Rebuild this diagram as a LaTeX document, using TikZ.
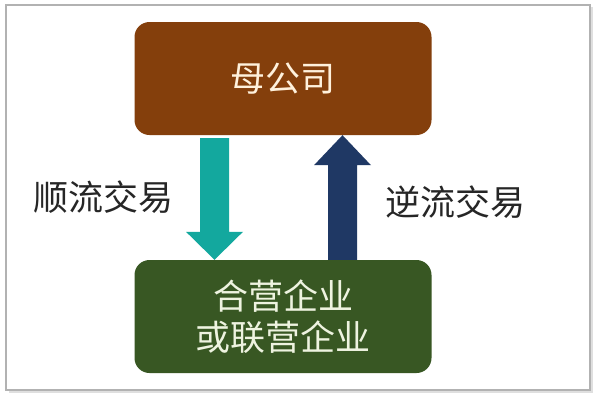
\documentclass[tikz,border=0pt]{standalone}
\usepackage{fontspec}
\newfontfamily\cjk{Noto Sans CJK SC}
\usetikzlibrary{calc}
\definecolor{brownbox}{HTML}{843F0C}
\definecolor{greenbox}{HTML}{385723}
\definecolor{tealarr}{HTML}{13A89E}
\definecolor{navyarr}{HTML}{1F3864}
\definecolor{toptext}{HTML}{FFF1DC}
\definecolor{bottext}{HTML}{EEF3E0}
\definecolor{labeltext}{HTML}{262626}
\tikzset{
  box/.style={rounded corners=15pt, minimum width=297pt, minimum height=113pt, inner sep=0pt,
    font=\cjk\fontsize{35}{41}\selectfont, align=center},
  sidelabel/.style={text=labeltext, font=\cjk\fontsize{35}{41}\selectfont, inner sep=0pt},
}
\begin{document}
\begin{tikzpicture}[x=1pt,y=-1pt]
\useasboundingbox (0,0) rectangle (600,400);
\fill[white] (0,0) rectangle (600,400);
% frame with slight shadow
\draw[gray!25, line width=2pt] (9,392) -- (592,392) -- (592,7);
\draw[gray!60, line width=1.5pt] (6,5) rectangle (590,390);
% boxes
\node[box, fill=brownbox, text=toptext] (top) at (283,78.5) {母公司};
\node[box, fill=greenbox, text=bottext] (bot) at (283,316.5) {合营企业\\或联营企业};
% downward (teal) arrow
\coordinate (dT) at ($(top.south)+(-68.5,3)$);
\coordinate (dB) at (dT |- bot.north);
\fill[tealarr] ($(dT)+(-14.5,0)$) -- ($(dT)+(14.5,0)$) -- ($(dB)+(14.5,-28)$) -- ($(dB)+(28.5,-28)$)
  -- (dB) -- ($(dB)+(-28.5,-28)$) -- ($(dB)+(-14.5,-28)$) -- cycle;
% upward (navy) arrow
\coordinate (uB) at ($(bot.north)+(59.5,0)$);
\coordinate (uT) at (uB |- top.south);
\fill[navyarr] ($(uB)+(-14.5,0)$) -- ($(uB)+(14.5,0)$) -- ($(uT)+(14.5,30)$) -- ($(uT)+(28.5,30)$)
  -- (uT) -- ($(uT)+(-28.5,30)$) -- ($(uT)+(-14.5,30)$) -- cycle;
% labels
\node[sidelabel] (l1) at (104,197) {顺流交易};
\node[sidelabel] (l2) at (455,202) {逆流交易};
\end{tikzpicture}
\end{document}
